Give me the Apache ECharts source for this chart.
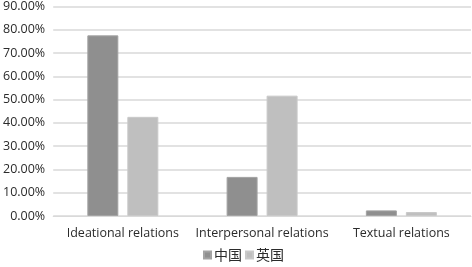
<!DOCTYPE html>
<html>
<head>
<meta charset="utf-8">
<script src="https://cdn.jsdelivr.net/npm/echarts@6/dist/echarts.min.js"></script>
<style>
  html, body { margin: 0; padding: 0; background: #fff; }
  #main { width: 472px; height: 267px; }
</style>
</head>
<body>
<div id="main"></div>
<script>
// 类别与数据
const categories = ["Ideational relations", "Interpersonal relations", "Textual relations"];
const chinaValues = [77.6, 16.8, 2.4];
const ukValues = [42.6, 51.7, 1.7];
const seriesNames = ["中国", "英国"];

let myChart = echarts.init(document.getElementById("main"));
let option = {
  animation: false,
  textStyle: { fontFamily: "Open Sans" },
  grid: {
    left: 53,
    right: 1,
    top: 5,
    bottom: 51,
  },
  legend: {
    bottom: 0,
    left: 198,
    itemWidth: 7,
    itemHeight: 7,
    itemGap: 3,
    icon: "rect",
    textStyle: { color: "#2b2b2b", fontSize: 14, fontFamily: "Noto Sans CJK SC", padding: [0, 0, 0, -2] },
    data: seriesNames,
  },
  xAxis: {
    type: "category",
    data: categories,
    axisTick: { show: false },
    axisLine: { lineStyle: { color: "#d9d9d9", width: 1 } },
    axisLabel: {
      color: "#2b2b2b",
      fontSize: 12.5,
      margin: 11,
      interval: 0,
    },
  },
  yAxis: {
    type: "value",
    min: 0,
    max: 90,
    interval: 10,
    axisLine: { show: false },
    axisTick: { show: false },
    splitLine: { lineStyle: { color: "#d9d9d9", width: 1.5 } },
    axisLabel: {
      color: "#2b2b2b",
      fontSize: 12.5,
      margin: 8,
      formatter: (v) => v.toFixed(2) + "%",
    },
  },
  series: [
    {
      name: seriesNames[0],
      type: "bar",
      data: chinaValues,
      barWidth: 31,
      barGap: "29%",
      itemStyle: { color: "#8f8f8f", borderColor: "#a3a3a3", borderWidth: 1 },
    },
    {
      name: seriesNames[1],
      type: "bar",
      data: ukValues,
      barWidth: 31,
      itemStyle: { color: "#bfbfbf", borderColor: "#c9c9c9", borderWidth: 1 },
    },
  ],
};
myChart.setOption(option);
</script>
</body>
</html>
